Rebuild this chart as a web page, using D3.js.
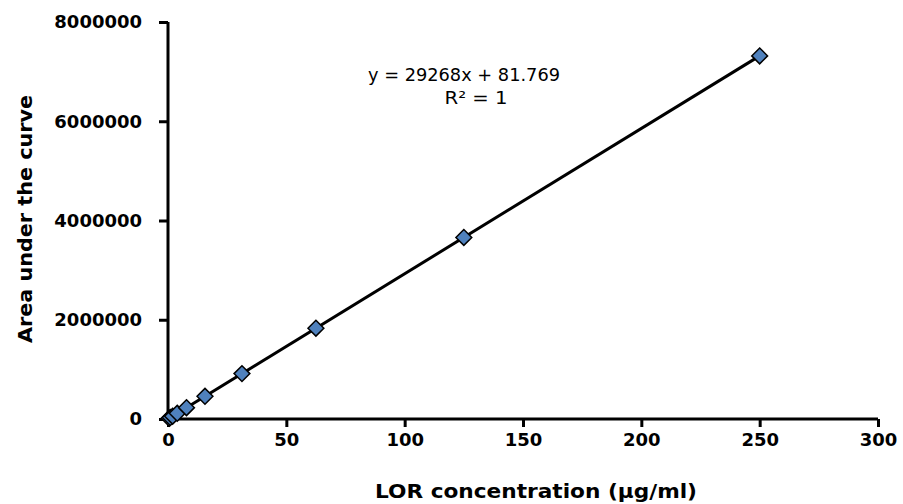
<!DOCTYPE html>
<html>
<head>
<meta charset="utf-8">
<script src="https://cdn.jsdelivr.net/npm/d3@7"></script>
<style>
  body { margin: 0; background: #fff; }
  text { font-family: "DejaVu Sans", "Open Sans", sans-serif; }
</style>
</head>
<body>
<div id="chart"></div>
<script>
// concentrations (µg/ml) and measured peak areas
const concentrations = [0.488, 0.977, 1.953, 3.906, 7.8125, 15.625, 31.25, 62.5, 125, 250];
const areas = [14400, 28700, 57200, 114400, 228700, 457400, 914700, 1829300, 3658500, 7317000];
const xTicks = [0, 50, 100, 150, 200, 250, 300];
const yTicks = [0, 2000000, 4000000, 6000000, 8000000];
const slope = 29268, intercept = 81.769;

const w = 903, h = 504;
const margin = { top: 22, right: 25, bottom: 85, left: 168 };

const svg = d3.select('#chart').append('svg')
  .attr('width', w).attr('height', h);

const xScale = d3.scaleLinear().domain([0, 300]).range([margin.left, w - margin.right]);
const yScale = d3.scaleLinear().domain([0, 8000000]).range([h - margin.bottom, margin.top]);

const xAxis = d3.axisBottom(xScale).tickValues(xTicks).tickSize(8).tickPadding(6).tickFormat(d3.format('d'));
const yAxis = d3.axisLeft(yScale).tickValues(yTicks).tickSize(9).tickPadding(17).tickFormat(d3.format('d'));

const gx = svg.append('g')
  .attr('transform', `translate(0, ${h - margin.bottom})`)
  .call(xAxis);
const gy = svg.append('g')
  .attr('transform', `translate(${margin.left}, 0)`)
  .call(yAxis);

[gx, gy].forEach(g => {
  g.attr('font-family', null).attr('font-size', null);
  g.select('.domain').attr('stroke', '#000').attr('stroke-width', 3);
  g.selectAll('.tick line').attr('stroke', '#000').attr('stroke-width', 3);
  g.selectAll('.tick text')
    .attr('fill', '#000')
    .style('font-size', '18px')
    .style('font-weight', 'bold');
});
// drop outer tick stubs
gx.select('.domain').attr('d', `M${xScale(0)},0H${xScale(300)}`);
gy.select('.domain').attr('d', `M0,${yScale(0)}V${yScale(8000000)}`);

// trendline
svg.append('line')
  .attr('x1', xScale(0)).attr('y1', yScale(intercept))
  .attr('x2', xScale(250)).attr('y2', yScale(slope * 250 + intercept))
  .attr('stroke', '#000').attr('stroke-width', 3);

const pts = concentrations.map((c, i) => [c, areas[i]]);
svg.append('g').selectAll('path')
  .data(pts)
  .enter()
  .append('path')
  .attr('transform', d => `translate(${xScale(d[0])}, ${yScale(d[1])})`)
  .attr('d', d3.symbol().type(d3.symbolDiamond2).size(160))
  .attr('fill', '#4f81bd')
  .attr('stroke', '#000')
  .attr('stroke-width', 1.5);

// equation label
svg.append('text')
  .attr('x', 464).attr('y', 81)
  .attr('text-anchor', 'middle')
  .attr('textLength', 192).attr('lengthAdjust', 'spacingAndGlyphs')
  .style('font-size', '17px')
  .text('y = 29268x + 81.769');
svg.append('text')
  .attr('x', 476).attr('y', 104)
  .attr('text-anchor', 'middle')
  .attr('textLength', 63).attr('lengthAdjust', 'spacingAndGlyphs')
  .style('font-size', '17px')
  .text('R² = 1');

// axis titles
svg.append('text')
  .attr('x', 536)
  .attr('y', 498)
  .attr('text-anchor', 'middle')
  .attr('textLength', 322).attr('lengthAdjust', 'spacingAndGlyphs')
  .style('font-size', '19px')
  .style('font-weight', 'bold')
  .text('LOR concentration (µg/ml)');
svg.append('text')
  .attr('transform', `translate(32, 219) rotate(-90)`)
  .attr('text-anchor', 'middle')
  .attr('textLength', 248).attr('lengthAdjust', 'spacingAndGlyphs')
  .style('font-size', '20px')
  .style('font-weight', 'bold')
  .text('Area under the curve');
</script>
</body>
</html>
